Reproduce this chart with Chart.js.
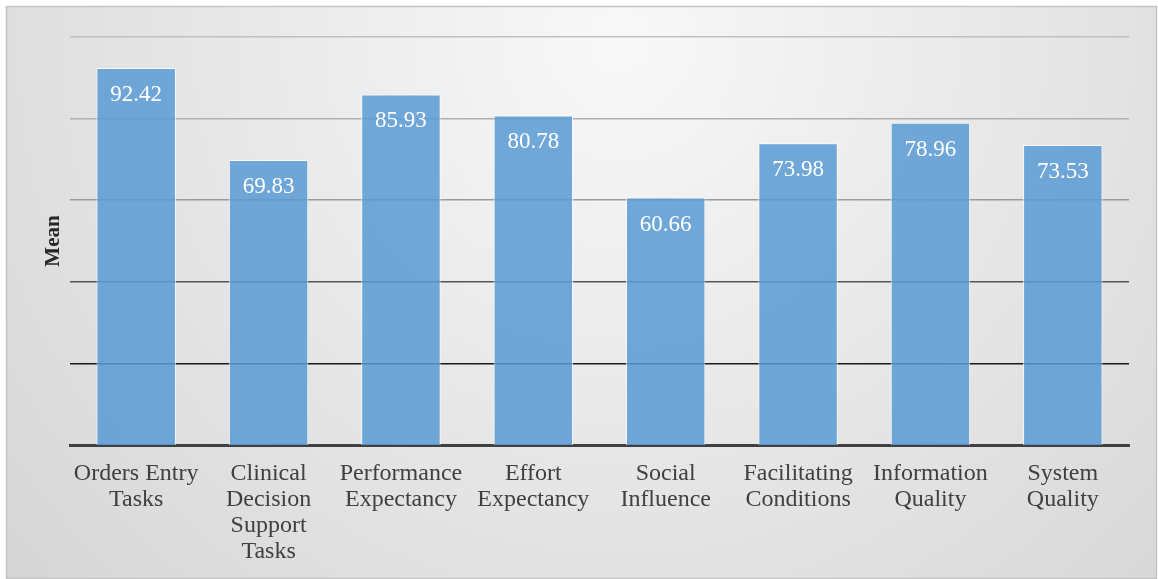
<!DOCTYPE html>
<html>
<head>
<meta charset="utf-8">
<script src="https://cdn.jsdelivr.net/npm/chart.js@4.4.1/dist/chart.umd.min.js"></script>
<style>
html,body{margin:0;padding:0;background:#fff;}
#wrap{width:1158px;height:579px;position:relative;}
</style>
</head>
<body>
<div id="wrap"><canvas id="c" width="1158" height="579"></canvas></div>
<script>
const categories = [
  ["Orders Entry","Tasks"],
  ["Clinical","Decision","Support","Tasks"],
  ["Performance","Expectancy"],
  ["Effort","Expectancy"],
  ["Social","Influence"],
  ["Facilitating","Conditions"],
  ["Information","Quality"],
  ["System","Quality"]
];
const meanValues = [92.42, 69.83, 85.93, 80.78, 60.66, 73.98, 78.96, 73.53];
const yTickValues = [0, 20, 40, 60, 80, 100];
const yAxisTitle = "Mean";

const gridColors = {0:'#404040',20:'#1a1a1a',40:'#555555',60:'#9a9a9a',80:'#b0b0b0',100:'#c0c0c0'};

const bgPlugin = {
  id:'bg',
  beforeDraw(chart){
    const ctx = chart.ctx;
    ctx.save();
    const g = ctx.createRadialGradient(620, 40, 10, 620, 40, 900);
    g.addColorStop(0, '#f8f8f8');
    g.addColorStop(1, '#d2d2d2');
    ctx.fillStyle = g;
    ctx.fillRect(6, 6, 1151, 573);
    ctx.strokeStyle = '#c4c4c4';
    ctx.lineWidth = 1.5;
    ctx.strokeRect(6.5, 6.5, 1150, 572);
    ctx.restore();
  }
};

const labelPlugin = {
  id:'valueLabels',
  afterDatasetsDraw(chart){
    const ctx = chart.ctx;
    const meta = chart.getDatasetMeta(0);
    ctx.save();
    ctx.font = '23px "Liberation Serif", "Times New Roman", serif';
    ctx.fillStyle = '#ffffff';
    ctx.textAlign = 'center';
    ctx.textBaseline = 'middle';
    meta.data.forEach((bar, i) => {
      ctx.fillText(meanValues[i].toFixed(2), bar.x, bar.y + 27);
    });
    ctx.restore();
  }
};

new Chart(document.getElementById('c'), {
  type:'bar',
  data:{
    labels: categories,
    datasets:[{
      data: meanValues,
      backgroundColor:'rgba(91,155,213,0.86)',
      borderColor:'rgba(255,255,255,0.75)',
      borderWidth:1,
      categoryPercentage:1.0,
      barPercentage:0.6
    }]
  },
  options:{
    responsive:false,
    animation:false,
    devicePixelRatio:1,
    layout:{padding:{left:0,right:29,top:37,bottom:0}},
    plugins:{legend:{display:false},tooltip:{enabled:false}},
    scales:{
      x:{
        grid:{display:false},
        border:{display:true,color:'#404040',width:3},
        ticks:{
          color:'#404040',
          font:{family:'"Liberation Serif", "Times New Roman", serif',size:24,lineHeight:1.08},
          padding:8,
          maxRotation:0,
          autoSkip:false
        },
        afterFit(s){ s.height = 134; }
      },
      y:{
        min:0,max:100,
        afterBuildTicks(s){ s.ticks = yTickValues.map(v=>({value:v})); },
        ticks:{display:false},
        grid:{
          color:(c)=>gridColors[c.tick.value] || '#aaa',
          lineWidth:(c)=>c.tick.value===0?0:1.5,
          drawTicks:false
        },
        border:{display:false},
        title:{
          display:true,
          text:yAxisTitle,
          color:'#262626',
          font:{family:'"Liberation Serif", "Times New Roman", serif',size:21,weight:'bold'},
          padding:{top:41,bottom:0}
        },
        afterFit(s){ s.width = 70; }
      }
    }
  },
  plugins:[bgPlugin,labelPlugin]
});
</script>
</body>
</html>
